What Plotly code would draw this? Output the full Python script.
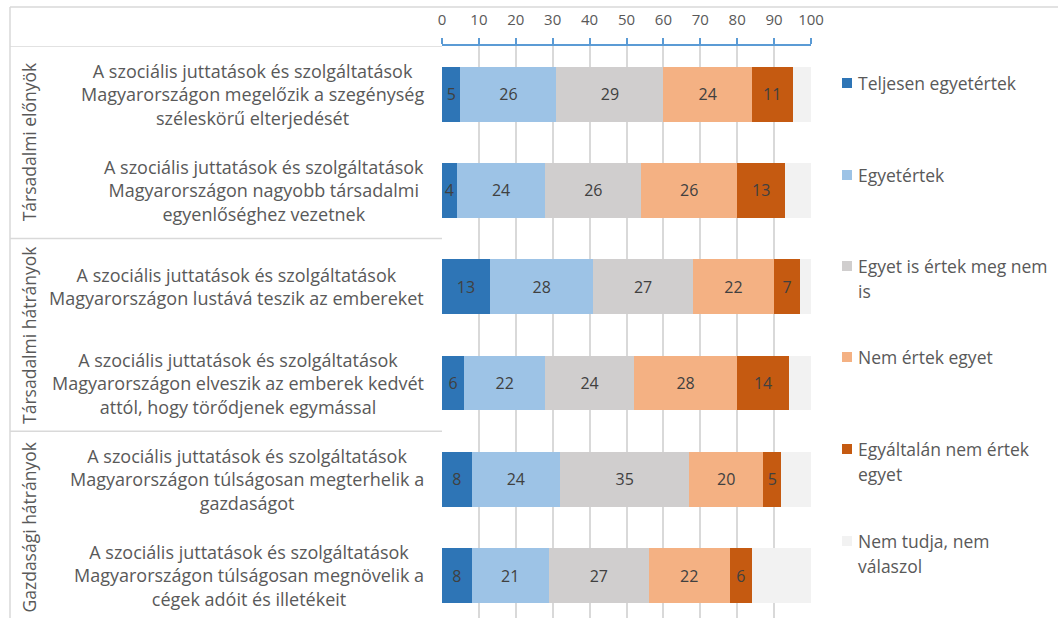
import plotly.graph_objects as go

# ---------------- data ----------------
statement_lines = [
    ["A szociális juttatások és szolgáltatások", "Magyarországon megelőzik a szegénység", "széleskörű elterjedését"],
    ["A szociális juttatások és szolgáltatások", "Magyarországon nagyobb társadalmi", "egyenlőséghez vezetnek"],
    ["A szociális juttatások és szolgáltatások", "Magyarországon lustává teszik az embereket"],
    ["A szociális juttatások és szolgáltatások", "Magyarországon elveszik az emberek kedvét", "attól, hogy törődjenek egymással"],
    ["A szociális juttatások és szolgáltatások", "Magyarországon túlságosan megterhelik a", "gazdaságot"],
    ["A szociális juttatások és szolgáltatások", "Magyarországon túlságosan megnövelik a", "cégek adóit és illetékeit"],
]
categories = [" ".join(l) for l in statement_lines]

groups = ["Társadalmi előnyök", "Társadalmi hátrányok", "Gazdasági hátrányok"]
group_rows = [(0, 1), (2, 3), (4, 5)]

series_names = ["Teljesen egyetértek", "Egyetértek", "Egyet is értek meg nem is",
                "Nem értek egyet", "Egyáltalán nem értek egyet", "Nem tudja, nem válaszol"]
legend_lines = [["Teljesen egyetértek"], ["Egyetértek"], ["Egyet is értek meg nem", "is"],
                ["Nem értek egyet"], ["Egyáltalán nem értek", "egyet"], ["Nem tudja, nem", "válaszol"]]

teljesen = [5, 4, 13, 6, 8, 8]
egyetert = [26, 24, 28, 22, 24, 21]
semleges = [29, 26, 27, 24, 35, 27]
nem_ert = [24, 26, 22, 28, 20, 22]
egyaltalan = [11, 13, 7, 14, 5, 6]
nem_tudja = [5, 7, 3, 6, 8, 16]

series_values = [teljesen, egyetert, semleges, nem_ert, egyaltalan, nem_tudja]
show_labels = [True, True, True, True, True, False]

colors = ["#2E75B6", "#9DC3E6", "#D0CECE", "#F4B183", "#C55A11", "#F2F2F2"]

x_ticks = list(range(0, 101, 10))

# ---------------- geometry helpers ----------------
W, H = 1058, 618
L, R, T, B = 442, 247, 46, 0
PW, PH = W - L - R, H - T - B


def px(xpix):
    return (xpix - L) / PW


def py(ypix):
    return (H - B - ypix) / PH


FONT = "Open Sans, Noto Sans, sans-serif"
TXT = "#595959"

fig = go.Figure()
for name, vals, col, lab in zip(series_names, series_values, colors, show_labels):
    fig.add_trace(go.Bar(
        y=categories, x=vals, orientation="h", name=name,
        marker=dict(color=col, line=dict(width=0)),
        text=[str(v) for v in vals] if lab else None,
        textposition="inside" if lab else "none",
        insidetextanchor="middle", textangle=0, constraintext="none",
        textfont=dict(family=FONT, size=16, color="#404040"),
        showlegend=False,
    ))

annotations = []
# category labels
for cat, lines in zip(categories, statement_lines):
    annotations.append(dict(
        x=px(426), xref="paper", y=cat, yref="y", text="<br>".join(lines), showarrow=False,
        xanchor="right", yanchor="middle", align="center",
        font=dict(family=FONT, size=18, color=TXT)))

# group labels
for g, (a, b) in zip(groups, group_rows):
    annotations.append(dict(
        x=px(29), xref="paper", y=(a + b) / 2, yref="y", text=g, showarrow=False,
        textangle=-90, xanchor="center", yanchor="middle",
        font=dict(family=FONT, size=17.5, color=TXT)))

shapes = []
line_style = dict(color="#D9D9D9", width=1.5)
# outer frame: top and left
shapes.append(dict(type="line", xref="paper", yref="paper", x0=px(10), x1=px(1058),
                   y0=py(7), y1=py(7), line=line_style))
shapes.append(dict(type="line", xref="paper", yref="paper", x0=px(10), x1=px(10),
                   y0=py(7), y1=py(618), line=line_style))
# group separators
for yv in [-0.5, 1.5, 3.5]:
    shapes.append(dict(type="line", xref="paper", yref="y", x0=px(10), x1=0,
                       y0=yv, y1=yv, line=line_style))

# manual legend
legend_y = [83, 175, 266, 357, 449, 541]
for lines, col, yl in zip(legend_lines, colors, legend_y):
    shapes.append(dict(type="rect", xref="paper", yref="paper",
                       x0=px(842), x1=px(852), y0=py(yl + 5), y1=py(yl - 5),
                       fillcolor=col, line=dict(width=0)))
    for i, ln in enumerate(lines):
        annotations.append(dict(
            x=px(856), xref="paper", y=py(yl + 25 * i), yref="paper", text=ln,
            showarrow=False, xanchor="left", yanchor="middle", align="left",
            font=dict(family=FONT, size=17.5, color=TXT)))

fig.update_layout(
    barmode="stack",
    bargap=0.43,
    width=W, height=H,
    margin=dict(l=L, r=R, t=T, b=B, pad=0),
    paper_bgcolor="white", plot_bgcolor="white",
    font=dict(family=FONT, color=TXT),
    annotations=annotations,
    shapes=shapes,
    showlegend=False,
)
fig.update_xaxes(
    side="top", range=[0, 100], tickvals=x_ticks, ticktext=[str(t) for t in x_ticks],
    ticks="outside", ticklen=6, tickcolor="#5B9BD5", tickwidth=1.5,
    showline=True, linecolor="#5B9BD5", linewidth=1.5,
    showgrid=True, gridcolor="#D9D9D9", gridwidth=1.5, zeroline=False,
    tickfont=dict(family=FONT, size=15, color=TXT), ticklabelstandoff=7,
)
fig.update_yaxes(
    categoryorder="array", categoryarray=categories,
    range=[5.44, -0.5], showticklabels=False, showgrid=False, zeroline=False,
    showline=False, ticks="",
)

fig.write_html("out.html", config={"displayModeBar": False},
               post_script="document.body.style.margin='0';document.body.style.overflow='hidden';")
